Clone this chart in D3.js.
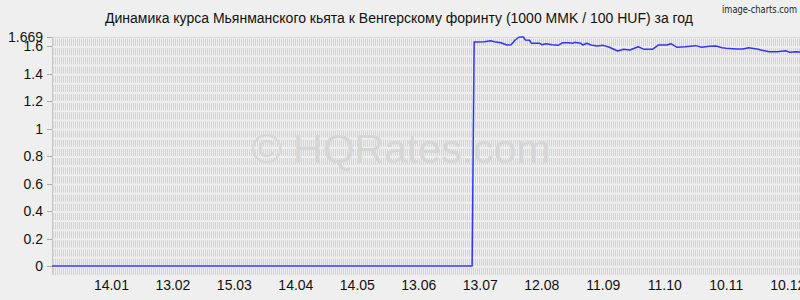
<!DOCTYPE html>
<html lang="ru">
<head>
<meta charset="UTF-8">
<title>MMK / HUF</title>
<script src="https://d3js.org/d3.v7.min.js"></script>
<style>
  *{padding:0; margin:0; box-sizing:border-box;}
  body{background:#efefef; width:800px; height:300px; overflow:hidden;}
  text{font-family:"Liberation Sans", Arial, sans-serif; fill:#111;}
</style>
</head>
<body>
<script>
// chart data
const title = "Динамика курса Мьянманского кьята к Венгерскому форинту (1000 MMK / 100 HUF) за год";
const startDate = "2012-12-16", endDate = "2013-12-16";
const yTicks = [0, 0.2, 0.4, 0.6, 0.8, 1, 1.2, 1.4, 1.6];
const yMax = 1.669;
const xTicks = ["2013-01-14","2013-02-13","2013-03-15","2013-04-14","2013-05-14","2013-06-13",
                "2013-07-13","2013-08-12","2013-09-11","2013-10-11","2013-11-10","2013-12-10"];
const dates = ["2012-12-16","2013-07-09","2013-07-10","2013-07-15","2013-07-18","2013-07-20","2013-07-23",
  "2013-07-26","2013-07-28","2013-07-30","2013-08-01","2013-08-03","2013-08-04","2013-08-06","2013-08-07",
  "2013-08-11","2013-08-12","2013-08-14","2013-08-17","2013-08-20","2013-08-22","2013-08-25","2013-08-27",
  "2013-08-28","2013-08-31","2013-09-01","2013-09-03","2013-09-05","2013-09-08","2013-09-11","2013-09-14",
  "2013-09-18","2013-09-21","2013-09-24","2013-09-28","2013-10-01","2013-10-05","2013-10-08","2013-10-12",
  "2013-10-14","2013-10-17","2013-10-21","2013-10-26","2013-10-29","2013-11-02","2013-11-05","2013-11-08",
  "2013-11-10","2013-11-15","2013-11-18","2013-11-21","2013-11-25","2013-11-27","2013-12-01","2013-12-05",
  "2013-12-09","2013-12-11","2013-12-14","2013-12-16"];
const rates = [0,0,1.632,1.635,1.642,1.635,1.627,
  1.611,1.613,1.647,1.669,1.669,1.647,1.645,1.623,
  1.623,1.613,1.620,1.613,1.608,1.627,1.627,1.623,
  1.630,1.623,1.611,1.623,1.611,1.603,1.608,1.594,
  1.567,1.579,1.574,1.598,1.579,1.579,1.611,1.611,
  1.620,1.594,1.598,1.606,1.594,1.601,1.603,1.591,
  1.587,1.581,1.581,1.591,1.581,1.574,1.562,1.562,
  1.569,1.557,1.562,1.560];

const W = 800, H = 300;
const mLeft = 52, mRight = 800, mTop = 37, zeroY = 266, gridBottom = 275;
const parse = d3.timeParse("%Y-%m-%d");

const svg = d3.select("body").append("svg").attr("width", W).attr("height", H);

const x = d3.scaleTime().domain([parse(startDate), parse(endDate)]).range([mLeft, mRight]);
const y = d3.scaleLinear().domain([0, yMax]).range([zeroY, mTop]);

// fine grid texture: dashed vertical lines, the gaps make rows
const band = (gridBottom - mTop) / 26;
const grid = svg.append("g");
grid.selectAll("line").data(d3.range(mLeft + 1.5, mRight, 2)).enter().append("line")
  .attr("x1", d => d).attr("x2", d => d)
  .attr("y1", mTop).attr("y2", gridBottom)
  .attr("stroke", "#d3d3d3").attr("stroke-width", 1)
  .attr("stroke-dasharray", (band - 2) + "," + 2)
  .attr("stroke-dashoffset", -2);
grid.append("line").attr("x1", mLeft).attr("x2", mRight).attr("y1", mTop + 0.5).attr("y2", mTop + 0.5)
  .attr("stroke", "#d3d3d3");

// y axis
const ya = svg.append("g");
ya.append("line").attr("x1", mLeft + 0.5).attr("x2", mLeft + 0.5).attr("y1", mTop).attr("y2", gridBottom)
  .attr("stroke", "#c8c8c8");
const yt = ya.selectAll("g").data(yTicks.concat([yMax])).enter().append("g");
yt.append("line").attr("x1", mLeft - 5).attr("x2", mLeft)
  .attr("y1", d => Math.round(y(d)) + 0.5).attr("y2", d => Math.round(y(d)) + 0.5)
  .attr("stroke", "#aaa");
yt.append("text").attr("x", mLeft - 9).attr("y", d => y(d) + 5)
  .attr("text-anchor", "end").style("font-size", "14px")
  .text(d => d === yMax ? "1.669" : d3.format("~g")(d));

// x labels
const fmt = d3.timeFormat("%d.%m");
svg.append("g").selectAll("text").data(xTicks).enter().append("text")
  .attr("x", d => x(parse(d))).attr("y", 290)
  .attr("text-anchor", "middle").style("font-size", "14px")
  .text(d => fmt(parse(d)));

// watermark
svg.append("text").attr("x", 401).attr("y", 163).attr("text-anchor", "middle")
  .style("font-size", "41px").style("fill", "#d6d6d6")
  .text("© HQRates.com");

// rate line
const pts = dates.map((d, i) => [parse(d), rates[i]]);
const line = d3.line().x(d => x(d[0])).y(d => y(d[1]));
svg.append("path").datum(pts).attr("d", line)
  .attr("fill", "none").attr("stroke", "#3333ff").attr("stroke-width", 1.5)
  .attr("stroke-linejoin", "round");

// title
svg.append("text").attr("x", 399).attr("y", 23).attr("text-anchor", "middle")
  .style("font-size", "14px").text(title);
svg.append("text").attr("x", 722).attr("y", 13)
  .attr("textLength", 75).attr("lengthAdjust", "spacingAndGlyphs")
  .style("font-size", "10px").style("font-family", "'DejaVu Sans', sans-serif")
  .style("fill", "#222").text("image-charts.com");
</script>
</body>
</html>
